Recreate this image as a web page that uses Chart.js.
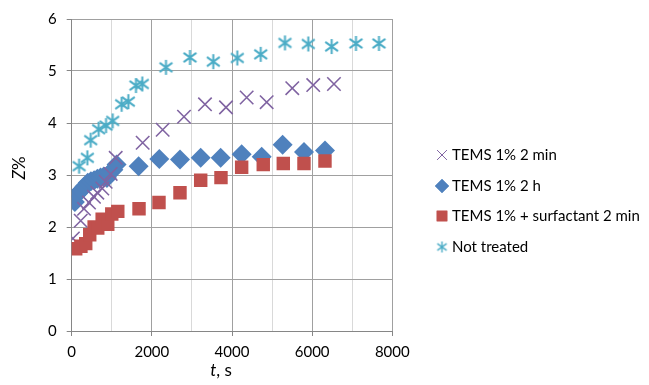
<!DOCTYPE html>
<html>
<head>
<meta charset="utf-8">
<script src="https://cdn.jsdelivr.net/npm/chart.js@4.4.1/dist/chart.umd.min.js"></script>
<style>
  html, body { margin: 0; padding: 0; background: #fff; }
  #wrap { width: 649px; height: 385px; }
</style>
</head>
<body>
<div id="wrap"><canvas id="myChart" width="649" height="385"></canvas></div>
<script>
// t, s  /  Z%
var tems2minT = [30, 225, 307, 432, 556, 639, 764, 848, 973, 1098, 1771, 2270, 2802, 3326, 3850, 4366, 4865, 5504, 6027, 6544];
var tems2minZ = [1.78, 2.12, 2.35, 2.47, 2.58, 2.66, 2.74, 2.87, 3.02, 3.33, 3.62, 3.87, 4.12, 4.36, 4.30, 4.49, 4.40, 4.67, 4.73, 4.75];

var tems2hT = [80, 150, 230, 320, 400, 480, 560, 640, 720, 800, 880, 960, 1040, 1120, 1670, 2186, 2702, 3219, 3717, 4241, 4741, 5264, 5796, 6320];
var tems2hZ = [2.48, 2.64, 2.70, 2.78, 2.85, 2.88, 2.90, 2.93, 2.95, 2.97, 2.94, 3.05, 3.10, 3.20, 3.17, 3.31, 3.30, 3.33, 3.33, 3.40, 3.35, 3.58, 3.44, 3.47];

var surfT = [100, 230, 350, 450, 560, 650, 760, 900, 1000, 1150, 1680, 2178, 2702, 3219, 3725, 4241, 4780, 5280, 5796, 6320];
var surfZ = [1.58, 1.63, 1.68, 1.85, 2.00, 1.98, 2.15, 2.05, 2.25, 2.30, 2.35, 2.47, 2.66, 2.90, 2.95, 3.15, 3.20, 3.22, 3.22, 3.27];

var notTreatedT = [185, 390, 474, 673, 856, 1023, 1247, 1413, 1604, 1762, 2352, 2951, 3533, 4132, 4716, 5322, 5904, 6487, 7093, 7667];
var notTreatedZ = [3.17, 3.33, 3.67, 3.88, 3.95, 4.04, 4.36, 4.41, 4.72, 4.75, 5.07, 5.26, 5.18, 5.25, 5.32, 5.54, 5.52, 5.47, 5.53, 5.53];

var seriesNames = ['TEMS 1% 2 min', 'TEMS 1% 2 h', 'TEMS 1% + surfactant 2 min', 'Not treated'];

var FONT = 'Lato, "Open Sans", sans-serif';

function pairs(xs, ys) {
    return xs.map(function (x, i) { return { x: x, y: ys[i] }; });
}

// Excel-like asterisk marker: vertical bar + two diagonals
function asterisk(size, color, lw) {
    var c = document.createElement('canvas');
    c.width = size; c.height = size;
    var g = c.getContext('2d');
    var m = size / 2, r = size / 2 - 1;
    g.strokeStyle = color;
    g.lineWidth = lw;
    g.beginPath();
    g.moveTo(m, m - r); g.lineTo(m, m + r);
    g.moveTo(m - r * 0.85, m - r * 0.62); g.lineTo(m + r * 0.85, m + r * 0.62);
    g.moveTo(m - r * 0.85, m + r * 0.62); g.lineTo(m + r * 0.85, m - r * 0.62);
    g.stroke();
    return c;
}

var starBig = asterisk(17, '#4BACC6', 2);
var starSmall = asterisk(13, '#4BACC6', 1.4);

var legendMarks = [
    { pointStyle: 'crossRot', radius: 7, borderWidth: 1.2, color: '#8064A2' },
    { pointStyle: 'rectRot', radius: 7, borderWidth: 0, color: '#4F81BD' },
    { pointStyle: 'rect', radius: 7.5, borderWidth: 0, color: '#C0504D' },
    { pointStyle: starSmall, radius: 6, borderWidth: 0, color: '#4BACC6' }
];

// legend + axis titles drawn beside the plot
var extras = {
    id: 'extras',
    afterDraw: function (chart) {
        var ctx = chart.ctx;
        ctx.save();
        ctx.fillStyle = '#000';
        ctx.textBaseline = 'middle';
        ctx.textAlign = 'left';
        ctx.font = '15px ' + FONT;
        var rows = [155, 186, 216, 247];
        seriesNames.forEach(function (name, i) {
            var mk = legendMarks[i];
            ctx.save();
            ctx.fillStyle = mk.color;
            ctx.strokeStyle = mk.color;
            Chart.helpers.drawPoint(ctx, {
                pointStyle: mk.pointStyle, radius: mk.radius,
                borderWidth: mk.borderWidth, rotation: 0
            }, 442, rows[i]);
            if (mk.borderWidth === 0 && typeof mk.pointStyle === 'string') ctx.fill();
            ctx.restore();
            ctx.fillText(name, 452, rows[i]);
        });

        // x title: italic t + ", s"
        ctx.font = 'italic 17px ' + FONT;
        var w1 = ctx.measureText('t').width;
        ctx.font = '17px ' + FONT;
        var w2 = ctx.measureText(', s').width;
        var x0 = 221 - (w1 + w2) / 2;
        ctx.font = 'italic 17px ' + FONT;
        ctx.fillText('t', x0, 371);
        ctx.font = '17px ' + FONT;
        ctx.fillText(', s', x0 + w1, 371);

        // y title: italic Z + "%", rotated
        ctx.translate(20, 168);
        ctx.rotate(-Math.PI / 2);
        ctx.font = 'italic 17px ' + FONT;
        var z1 = ctx.measureText('Z').width;
        ctx.font = '17px ' + FONT;
        var z2 = ctx.measureText('%').width;
        var y0 = -(z1 + z2) / 2;
        ctx.font = 'italic 17px ' + FONT;
        ctx.fillText('Z', y0, 0);
        ctx.font = '17px ' + FONT;
        ctx.fillText('%', y0 + z1, 0);
        ctx.restore();
    }
};

var ctx = document.getElementById('myChart').getContext('2d');

// lower order = drawn on top (red over purple over blue)
var myChart = new Chart(ctx, {
    type: 'scatter',
    data: {
        datasets: [{
            label: seriesNames[0],
            data: pairs(tems2minT, tems2minZ),
            order: 1,
            pointStyle: 'crossRot',
            pointRadius: 9.5,
            pointBorderWidth: 1.6,
            borderColor: '#8064A2',
            backgroundColor: '#8064A2'
        }, {
            label: seriesNames[1],
            data: pairs(tems2hT, tems2hZ),
            order: 2,
            pointStyle: 'rectRot',
            pointRadius: 10,
            pointBorderWidth: 0,
            borderColor: '#4F81BD',
            backgroundColor: '#4F81BD'
        }, {
            label: seriesNames[2],
            data: pairs(surfT, surfZ),
            order: 0,
            pointStyle: 'rect',
            pointRadius: 9.5,
            pointBorderWidth: 0,
            borderColor: '#C0504D',
            backgroundColor: '#C0504D'
        }, {
            label: seriesNames[3],
            data: pairs(notTreatedT, notTreatedZ),
            order: 3,
            pointStyle: starBig,
            pointRadius: 8,
            borderColor: '#4BACC6',
            backgroundColor: '#4BACC6'
        }]
    },
    options: {
        responsive: false,
        animation: false,
        layout: { padding: { left: 0, right: 256.7, top: 14, bottom: 0 } },
        plugins: {
            legend: { display: false },
            tooltip: { enabled: false }
        },
        scales: {
            x: {
                type: 'linear',
                min: 0,
                max: 8000,
                afterFit: function (s) { s.height = 54; },
                border: { color: '#868686', width: 1 },
                grid: {
                    color: function (c) { return c.tick.value % 2000 === 0 ? '#a0a0a0' : '#d9d9d9'; },
                    tickColor: function (c) { return c.tick.value % 2000 === 0 ? '#868686' : 'rgba(0,0,0,0)'; },
                    tickLength: 5
                },
                ticks: {
                    stepSize: 1000,
                    padding: 7,
                    color: '#000',
                    font: { family: FONT, size: 15 },
                    maxRotation: 0,
                    autoSkip: false,
                    callback: function (v) { return v % 2000 === 0 ? v : ''; }
                }
            },
            y: {
                min: 0,
                max: 6,
                afterFit: function (s) { s.width = 71.7; },
                border: { color: '#868686', width: 1 },
                grid: {
                    color: '#a0a0a0',
                    tickColor: '#868686',
                    tickLength: 5
                },
                ticks: {
                    stepSize: 1,
                    padding: 10,
                    color: '#000',
                    font: { family: FONT, size: 15 }
                }
            }
        }
    },
    plugins: [extras]
});
</script>
</body>
</html>
